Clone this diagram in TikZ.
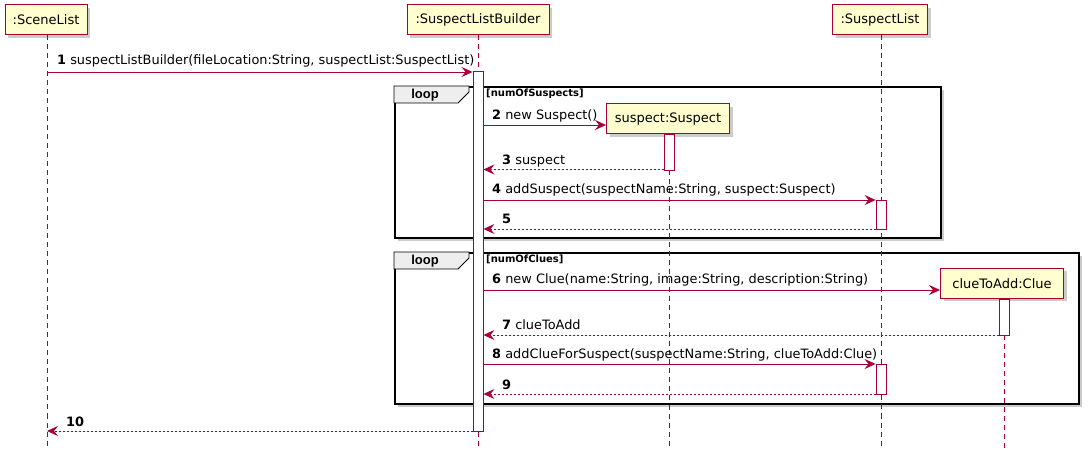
\documentclass[tikz,border=0pt]{standalone}
\usepackage{fontspec}
\setmainfont{DejaVu Sans}
\newfontfamily\lsans{Liberation Sans}
\usetikzlibrary{arrows.meta,shadows}
\definecolor{pred}{HTML}{A80036}
\definecolor{pyel}{HTML}{FEFECE}
\definecolor{tabgray}{HTML}{EEEEEE}
\begin{document}
\begin{tikzpicture}[x=1pt,y=-1pt,
  part/.style={draw=pred, fill=pyel, line width=1pt, inner sep=0pt,
    minimum height=30pt, font=\fontsize{13}{16}\selectfont,
    drop shadow={fill=black, opacity=0.2, shadow xshift=3pt, shadow yshift=-3pt}},
  lifeline/.style={draw=pred, line width=0.8pt, dash pattern=on 5pt off 4pt},
  actbar/.style={draw=pred, fill=white, line width=0.9pt, inner sep=0pt,
    minimum width=10pt, anchor=north},
  loopframe/.style={draw=black, line width=2pt, fill=white, inner sep=0pt, anchor=north west,
    drop shadow={fill=black, opacity=0.2, shadow xshift=3pt, shadow yshift=-3pt}},
  looptab/.style={draw=black, line width=0.8pt, fill=tabgray},
  looplbl/.style={font=\lsans\fontsize{13}{15}\selectfont\bfseries, anchor=base, inner sep=0pt},
  guard/.style={font=\fontsize{10}{12}\selectfont\bfseries, anchor=base west, inner sep=0pt},
  syncmsg/.style={draw=pred, line width=0.9pt, -{Stealth[length=11pt,width=10pt,inset=4pt]}},
  retmsg/.style={draw=pred, line width=0.9pt, dash pattern=on 2pt off 2pt, -{Stealth[length=11pt,width=10pt,inset=4pt]}},
  lbl/.style={font=\fontsize{12.9}{15}\selectfont, anchor=base west, inner sep=0pt},
]
\useasboundingbox (0,0) rectangle (1090,454);

% loop frames
\node[loopframe, minimum width=546pt, minimum height=151pt] (loopA) at (394,86) {};
\draw[looptab] (loopA.north west) -- ++(75,0) -- ++(0,6) -- ++(-11,11) -- ++(-64,0) -- cycle;
\node[looplbl] (loopAl) at (425,99) {loop};
\node[guard] (loopAg) at (486,97) {[numOfSuspects]};

\node[loopframe, minimum width=684pt, minimum height=151pt] (loopB) at (394,252) {};
\draw[looptab] (loopB.north west) -- ++(75,0) -- ++(0,6) -- ++(-11,11) -- ++(-64,0) -- cycle;
\node[looplbl] (loopBl) at (425,265) {loop};
\node[guard] (loopBg) at (486,263) {[numOfClues]};

% participants
\node[part, minimum width=82pt] (scene) at (46,20) {:SceneList};
\node[part, minimum width=142pt] (builder) at (478,20) {:SuspectListBuilder};
\node[part, minimum width=95pt] (slist) at (880,20) {:SuspectList};
\node[part, minimum width=123pt] (suspect) at (668,119) {suspect:Suspect};
\node[part, minimum width=123pt] (clue) at (1002,283.5) {clueToAdd:Clue};

% lifeline ends
\coordinate (sceneEnd) at (47,448);
\coordinate (builderEnd) at (478,448);
\coordinate (slistEnd) at (881,448);
\coordinate (suspectEnd) at (669,448);
\coordinate (clueEnd) at (1004,448);
\draw[lifeline] (scene.south -| sceneEnd) -- (sceneEnd);
\draw[lifeline] (builder.south -| builderEnd) -- (builderEnd);
\draw[lifeline] (slist.south -| slistEnd) -- (slistEnd);
\draw[lifeline] (suspect.south -| suspectEnd) -- (suspectEnd);
\draw[lifeline] (clue.south -| clueEnd) -- (clueEnd);

% activation bars
\node[actbar, minimum height=360pt] (act0) at (478,71) {};
\node[actbar, minimum height=36pt] (act1) at (669,134) {};
\node[actbar, minimum height=29pt] (act2) at (881,200) {};
\node[actbar, minimum height=36pt] (act3) at (1004,299) {};
\node[actbar, minimum height=30pt] (act4) at (881,364) {};

% messages
\coordinate (m1a) at (47,72);
\draw[syncmsg] (m1a) -- (m1a -| act0.west);
\node[lbl] (l1) at (57,65) {\textbf{1} suspectListBuilder(fileLocation:String, suspectList:SuspectList)};

\coordinate (m2a) at (483,125);
\draw[syncmsg] (m2a) -- (m2a -| suspect.west);
\node[lbl] (l2) at (492,120) {\textbf{2} new Suspect()};

\coordinate (m3a) at (664,169.5);
\draw[retmsg] (m3a) -- (m3a -| act0.east);
\node[lbl] (l3) at (502,165) {\textbf{3} suspect};

\coordinate (m4a) at (483,200);
\draw[syncmsg] (m4a) -- (m4a -| act2.west);
\node[lbl] (l4) at (492,194) {\textbf{4} addSuspect(suspectName:String, suspect:Suspect)};

\coordinate (m5a) at (876,229);
\draw[retmsg] (m5a) -- (m5a -| act0.east);
\node[lbl] (l5) at (502,224) {\textbf{5}};

\coordinate (m6a) at (483,290);
\draw[syncmsg] (m6a) -- (m6a -| clue.west);
\node[lbl] (l6) at (492,284) {\textbf{6} new Clue(name:String, image:String, description:String)};

\coordinate (m7a) at (999,335);
\draw[retmsg] (m7a) -- (m7a -| act0.east);
\node[lbl] (l7) at (502,330) {\textbf{7} clueToAdd};

\coordinate (m8a) at (483,364);
\draw[syncmsg] (m8a) -- (m8a -| act4.west);
\node[lbl] (l8) at (492,359) {\textbf{8} addClueForSuspect(suspectName:String, clueToAdd:Clue)};

\coordinate (m9a) at (876,394);
\draw[retmsg] (m9a) -- (m9a -| act0.east);
\node[lbl] (l9) at (502,389) {\textbf{9}};

\coordinate (m10a) at (473,431);
\draw[retmsg] (m10a) -- (m10a -| sceneEnd);
\node[lbl] (l10) at (66,426) {\textbf{10}};
\end{tikzpicture}
\end{document}
